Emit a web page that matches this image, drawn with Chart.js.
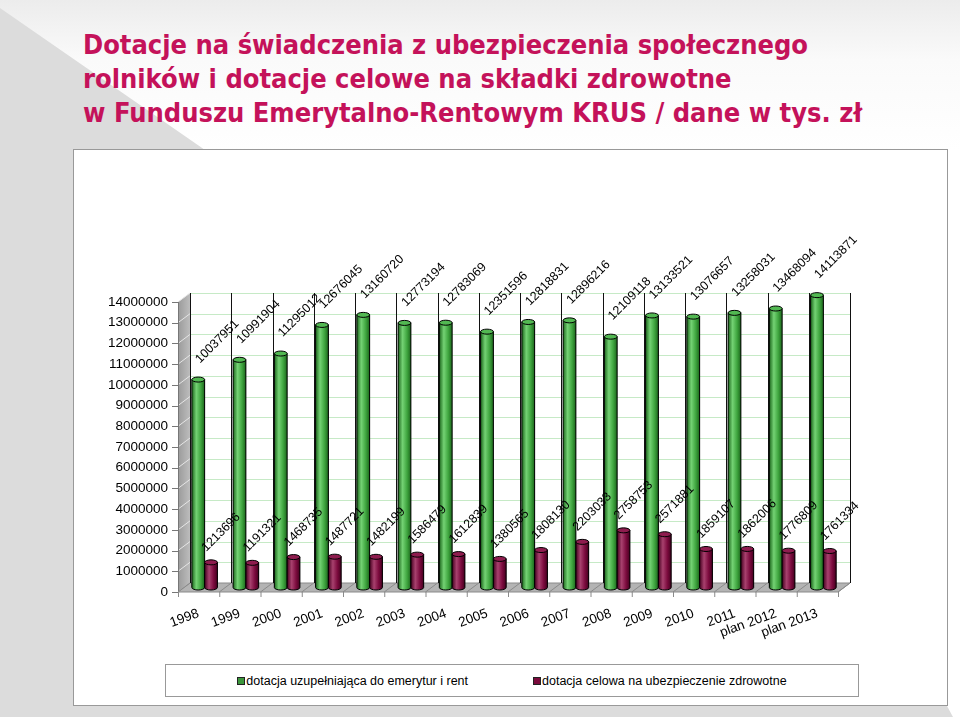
<!DOCTYPE html>
<html lang="pl">
<head>
<meta charset="utf-8">
<title>Dotacje KRUS</title>
<script src="https://cdn.jsdelivr.net/npm/chart.js@4.4.1/dist/chart.umd.min.js"></script>
<style>
  html, body { margin: 0; padding: 0; }
  body {
    width: 960px; height: 720px; position: relative; overflow: hidden;
    background: linear-gradient(to bottom, #ececec 0px, #fafafa 60px, #ffffff 150px);
    font-family: "Liberation Sans", Arial, sans-serif;
  }
  #grayShape {
    position: absolute; left: 0; top: 0; width: 960px; height: 720px;
    background: #dcdcdc;
    clip-path: polygon(0px 8px, 205px 150px, 947px 150px, 947px 706px, 953px 717px, 0px 717px);
  }
  #title {
    position: absolute; left: 83px; top: 28px;
    font-family: "DejaVu Sans Condensed", "DejaVu Sans", sans-serif; font-weight: 700;
    font-size: 27px; line-height: 34px; color: #c4125a;
    white-space: nowrap;
  }
  #box {
    position: absolute; left: 73px; top: 149px; width: 873px; height: 555px;
    background: #fff; border: 1px solid #999;
  }
  #chart { position: absolute; left: 74px; top: 150px; }
  #legend {
    position: absolute; left: 165px; top: 664px; width: 692px; height: 31px;
    border: 1px solid #999; background: #fff;
    display: flex; justify-content: center; align-items: center; gap: 65px;
    font-size: 12.5px; color: #000;
  }
  #legend span.sw {
    display: inline-block; width: 6px; height: 6px; border: 1px solid #222;
    margin-right: 1px; vertical-align: 0px;
  }
</style>
</head>
<body>
<div id="grayShape"></div>
<div id="title">Dotacje na świadczenia z ubezpieczenia społecznego<br>rolników i dotacje celowe na składki zdrowotne<br>w Funduszu Emerytalno-Rentowym KRUS / dane w tys. zł</div>
<div id="box"></div>
<canvas id="chart" width="873" height="555"></canvas>
<div id="legend"></div>
<script>
const years = ["1998", "1999", "2000", "2001", "2002", "2003", "2004", "2005",
    "2006", "2007", "2008", "2009", "2010", "2011", "plan 2012", "plan 2013"];

const pensionSubsidy = [10037951, 10991904, 11295012, 12676045, 13160720, 12773194, 12783069, 12351596,
    12818831, 12896216, 12109118, 13133521, 13076657, 13258031, 13468094, 14113871];

const healthSubsidy = [1213696, 1191321, 1468735, 1487721, 1482199, 1586479, 1612839, 1380565,
    1808130, 2203033, 2758753, 2571881, 1859107, 1862006, 1776809, 1761334];

const seriesNames = ["dotacja uzupełniająca do emerytur i rent", "dotacja celowa na ubezpieczenie zdrowotne"];

const yMax = 14000000;
const yStep = 1000000;

// 3D look: front plane is (-dx, +dy) from the chart area, back wall (+dx, -dy)
const dx = 6;
const dy = 4.5;

const shades = [
    { dark: "#1c661c", mid: "#3fa53f", light: "#74d274", top: "#52b852", label: [19, -38] },
    { dark: "#45001f", mid: "#7c0b3e", light: "#a8416e", top: "#8e1c4e", label: [10, -30] }
];

const wallPlugin = {
    id: "wall",
    beforeDatasetsDraw(chart) {
        const ctx = chart.ctx;
        const a = chart.chartArea;
        const y = chart.scales.y;
        const cw = (a.right - a.left) / years.length;
        ctx.save();

        // back wall gridlines
        ctx.strokeStyle = "#c6eac6";
        ctx.lineWidth = 1;
        y.ticks.forEach(t => {
            const py = Math.round(y.getPixelForValue(t.value) - dy) + 0.5;
            ctx.beginPath();
            ctx.moveTo(a.left + dx, py);
            ctx.lineTo(a.right + dx, py);
            ctx.stroke();
        });

        // side wall
        const top = y.getPixelForValue(yMax);
        const bottom = y.getPixelForValue(0);
        const g = ctx.createLinearGradient(a.left - dx, 0, a.left + dx, 0);
        g.addColorStop(0, "#9a9a9a");
        g.addColorStop(1, "#bdbdbd");
        ctx.fillStyle = g;
        ctx.beginPath();
        ctx.moveTo(a.left - dx, top + dy);
        ctx.lineTo(a.left + dx, top - dy);
        ctx.lineTo(a.left + dx, bottom - dy);
        ctx.lineTo(a.left - dx, bottom + dy);
        ctx.closePath();
        ctx.fill();
        ctx.strokeStyle = "#e6e6e6";
        y.ticks.forEach(t => {
            const py = y.getPixelForValue(t.value);
            ctx.beginPath();
            ctx.moveTo(a.left - dx, py + dy);
            ctx.lineTo(a.left + dx, py - dy);
            ctx.stroke();
        });
        // front ticks of the value axis
        ctx.strokeStyle = "#777";
        ctx.beginPath();
        ctx.moveTo(a.left - dx + 0.5, top + dy);
        ctx.lineTo(a.left - dx + 0.5, bottom + dy);
        y.ticks.forEach(t => {
            const py = Math.round(y.getPixelForValue(t.value) + dy) + 0.5;
            ctx.moveTo(a.left - dx - 6, py);
            ctx.lineTo(a.left - dx, py);
        });
        ctx.stroke();

        // floor
        ctx.fillStyle = "#b4b4b4";
        ctx.beginPath();
        ctx.moveTo(a.left - dx, bottom + dy);
        ctx.lineTo(a.right - dx, bottom + dy);
        ctx.lineTo(a.right + dx, bottom - dy);
        ctx.lineTo(a.left + dx, bottom - dy);
        ctx.closePath();
        ctx.fill();
        ctx.strokeStyle = "#8a8a8a";
        ctx.stroke();
        ctx.beginPath();
        for (let i = 0; i <= years.length; i++) {
            const bx = a.left + i * cw;
            ctx.moveTo(bx - dx, bottom + dy);
            ctx.lineTo(bx + dx, bottom - dy);
            ctx.moveTo(bx - dx + 0.5, bottom + dy);
            ctx.lineTo(bx - dx + 0.5, bottom + dy + 5);
        }
        ctx.stroke();

        // back wall category lines
        ctx.strokeStyle = "#111";
        ctx.beginPath();
        for (let i = 0; i <= years.length; i++) {
            const bx = Math.round(a.left + i * cw + dx) + 0.5;
            ctx.moveTo(bx, top - dy);
            ctx.lineTo(bx, bottom - dy);
        }
        ctx.stroke();
        ctx.restore();
    },
    afterDatasetsDraw(chart) {
        const ctx = chart.ctx;
        ctx.save();
        chart.data.datasets.forEach((ds, di) => {
            const s = shades[di];
            chart.getDatasetMeta(di).data.forEach(bar => {
                const p = bar.getProps(["x", "y", "base", "width"], true);
                const l = p.x - p.width / 2;
                const r = p.x + p.width / 2;
                const ry = 2.5;
                const g = ctx.createLinearGradient(l, 0, r, 0);
                g.addColorStop(0, s.dark);
                g.addColorStop(0.35, s.light);
                g.addColorStop(0.7, s.mid);
                g.addColorStop(1, s.dark);
                ctx.fillStyle = g;
                ctx.beginPath();
                ctx.moveTo(l, p.y);
                ctx.lineTo(l, p.base);
                ctx.ellipse(p.x, p.base, p.width / 2, ry, 0, Math.PI, 0, true);
                ctx.lineTo(r, p.y);
                ctx.closePath();
                ctx.fill();
                ctx.strokeStyle = "#000";
                ctx.lineWidth = 1;
                ctx.stroke();
                ctx.fillStyle = s.top;
                ctx.beginPath();
                ctx.ellipse(p.x, p.y, p.width / 2, ry, 0, 0, Math.PI * 2);
                ctx.fill();
                ctx.stroke();
            });
        });

        // value labels
        ctx.fillStyle = "#000";
        ctx.font = "12.5px 'Liberation Sans', Arial, sans-serif";
        ctx.textAlign = "center";
        ctx.textBaseline = "middle";
        chart.data.datasets.forEach((ds, di) => {
            const off = shades[di].label;
            chart.getDatasetMeta(di).data.forEach((bar, i) => {
                const p = bar.getProps(["x", "y"], true);
                ctx.save();
                ctx.translate(p.x + off[0], p.y + off[1]);
                ctx.rotate(-45 * Math.PI / 180);
                ctx.fillText(String(ds.data[i]), 0, 0);
                ctx.restore();
            });
        });
        ctx.restore();
    }
};

const chart = new Chart(document.getElementById("chart"), {
    type: "bar",
    data: {
        labels: years,
        datasets: [{
            label: seriesNames[0],
            data: pensionSubsidy,
            backgroundColor: "#3c963c",
            borderWidth: 0,
            categoryPercentage: 0.62,
            barPercentage: 1
        }, {
            label: seriesNames[1],
            data: healthSubsidy,
            backgroundColor: "#7a0a3c",
            borderWidth: 0,
            categoryPercentage: 0.62,
            barPercentage: 1
        }]
    },
    options: {
        responsive: false,
        animation: false,
        layout: {
            padding: { top: 147.5, left: 20, right: 103, bottom: 57.5 }
        },
        plugins: {
            legend: { display: false },
            tooltip: { enabled: false }
        },
        scales: {
            x: {
                grid: { display: false },
                border: { display: false },
                ticks: {
                    color: "#000",
                    font: { family: "'Liberation Sans', Arial, sans-serif", size: 13.5 },
                    minRotation: 20,
                    maxRotation: 20,
                    autoSkip: false,
                    padding: 10,
                    labelOffset: -6
                },
                afterFit(scale) { scale.height = 60; }
            },
            y: {
                min: 0,
                max: yMax,
                grid: { display: false },
                border: { display: false },
                ticks: {
                    stepSize: yStep,
                    color: "#000",
                    font: { family: "'Liberation Sans', Arial, sans-serif", size: 13.5 },
                    padding: 8,
                    labelOffset: 4.5,
                    callback: value => String(value)
                },
                afterFit(scale) { scale.width = 90; }
            }
        }
    },
    plugins: [wallPlugin]
});

// legend built from the chart's datasets
const legendEl = document.getElementById("legend");
chart.data.datasets.forEach(ds => {
    const item = document.createElement("div");
    const sw = document.createElement("span");
    sw.className = "sw";
    sw.style.background = ds.backgroundColor;
    item.appendChild(sw);
    item.appendChild(document.createTextNode(ds.label));
    legendEl.appendChild(item);
});
</script>
</body>
</html>
